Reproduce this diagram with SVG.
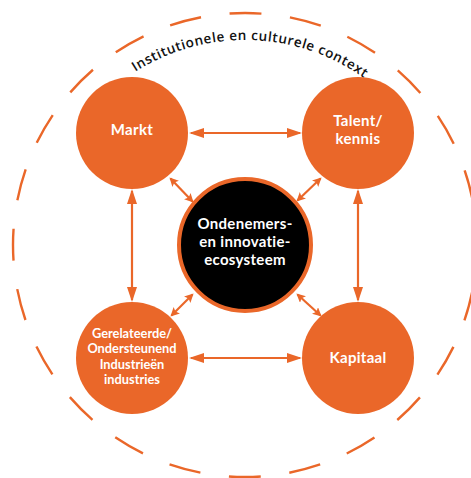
<svg xmlns="http://www.w3.org/2000/svg" xmlns:xlink="http://www.w3.org/1999/xlink" width="471" height="478" viewBox="0 0 471 478">
  <style>
    .node { fill: #EA6729; }
    .lbl { fill: #ffffff; font-family: Lato, "Liberation Sans", sans-serif; font-weight: 700; text-anchor: middle; font-size: 15px; letter-spacing: 0.3px; }
    .lbl-s { fill: #ffffff; font-family: Lato, "Liberation Sans", sans-serif; font-weight: 700; text-anchor: middle; font-size: 12.8px; }
    .conn { stroke: #EA6729; stroke-width: 2.2; fill: none; }
    .ctx { fill: #111111; font-family: "Open Sans", "Liberation Sans", sans-serif; font-weight: 600; font-size: 13.5px; letter-spacing: 0.6px; }
  </style>
  <defs>
    <marker id="ah" viewBox="0 0 15 10" markerWidth="15" markerHeight="10" refX="13" refY="5" orient="auto-start-reverse" markerUnits="userSpaceOnUse">
      <path d="M0,0 L15,5 L0,10 z" fill="#EA6729"/>
    </marker>
    <marker id="as" viewBox="0 0 9 9" markerWidth="9" markerHeight="9" refX="7.5" refY="4.5" orient="auto-start-reverse" markerUnits="userSpaceOnUse">
      <path d="M0,0 L9,4.5 L0,9 L2,4.5 z" fill="#EA6729"/>
    </marker>
    <path id="arc" d="M 40,245 A 205 205 0 0 1 450,245"/>
  </defs>
  <rect width="471" height="478" fill="#ffffff"/>

  <g id="context">
    <circle cx="245" cy="245" r="232" fill="none" stroke="#EA6729" stroke-width="2.4" stroke-dasharray="32 28.74" stroke-dashoffset="16"/>
    <text class="ctx"><textPath xlink:href="#arc" startOffset="50.9%" text-anchor="middle">Institutionele en culturele context</textPath></text>
  </g>

  <g id="connectors">
    <line class="conn" x1="191" y1="133" x2="300" y2="133" marker-start="url(#ah)" marker-end="url(#ah)"/>
    <line class="conn" x1="191" y1="358" x2="300" y2="358" marker-start="url(#ah)" marker-end="url(#ah)"/>
    <line class="conn" x1="132" y1="191" x2="132" y2="300" marker-start="url(#ah)" marker-end="url(#ah)"/>
    <line class="conn" x1="358" y1="191" x2="358" y2="300" marker-start="url(#ah)" marker-end="url(#ah)"/>
    <line class="conn" x1="170.5" y1="178.5" x2="192.5" y2="201.5" marker-start="url(#as)" marker-end="url(#as)"/>
    <line class="conn" x1="320.5" y1="178.5" x2="297.5" y2="200.5" marker-start="url(#as)" marker-end="url(#as)"/>
    <line class="conn" x1="192.5" y1="294.5" x2="171.5" y2="315.5" marker-start="url(#as)" marker-end="url(#as)"/>
    <line class="conn" x1="297.5" y1="294.5" x2="320.5" y2="315.5" marker-start="url(#as)" marker-end="url(#as)"/>
  </g>

  <g id="markt">
    <circle class="node" cx="132" cy="133" r="56"/>
    <text class="lbl" x="132" y="135">Markt</text>
  </g>
  <g id="talent">
    <circle class="node" cx="358" cy="133" r="56"/>
    <text class="lbl"><tspan x="358" y="126">Talent/</tspan><tspan x="358" y="144.2">kennis</tspan></text>
  </g>
  <g id="gerelateerde">
    <circle class="node" cx="132" cy="358" r="56"/>
    <text class="lbl-s"><tspan x="132" y="337.5">Gerelateerde/</tspan><tspan x="132" y="353">Ondersteunend</tspan><tspan x="132" y="368.5">Industrieën</tspan><tspan x="132" y="384">industries</tspan></text>
  </g>
  <g id="kapitaal">
    <circle class="node" cx="358" cy="358" r="56"/>
    <text class="lbl" x="358" y="363">Kapitaal</text>
  </g>
  <g id="ecosysteem">
    <circle cx="245" cy="245" r="66" fill="#000000" stroke="#EA6729" stroke-width="4"/>
    <text class="lbl"><tspan x="245" y="229">Ondenemers-</tspan><tspan x="245" y="247.2">en innovatie-</tspan><tspan x="245" y="265.4">ecosysteem</tspan></text>
  </g>
</svg>
